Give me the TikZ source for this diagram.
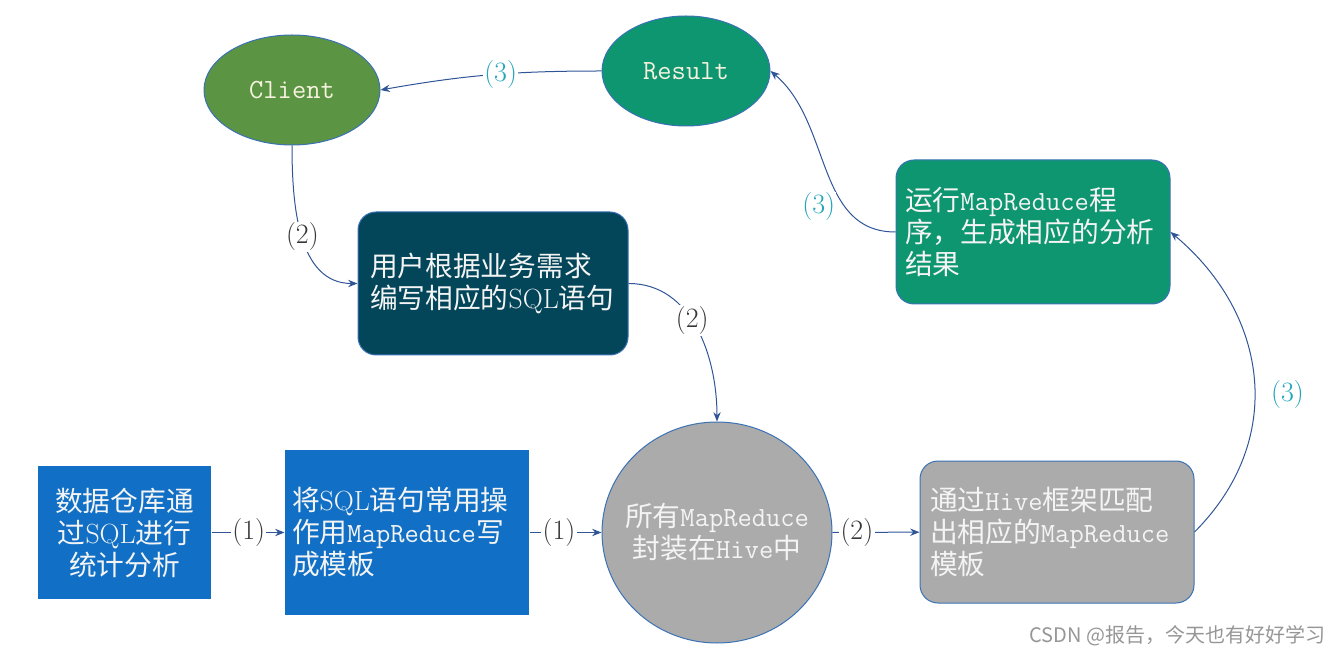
\documentclass[tikz,border=0pt]{standalone}
\usepackage{fontspec}
\newfontfamily\cjk{Noto Sans CJK SC}
\usetikzlibrary{arrows.meta,shapes.geometric}
\definecolor{clientc}{RGB}{91,148,67}
\definecolor{resc}{RGB}{14,150,112}
\definecolor{userc}{RGB}{3,70,90}
\definecolor{bluec}{RGB}{17,112,197}
\definecolor{grayc}{RGB}{171,171,171}
\definecolor{bordc}{RGB}{58,114,181}
\definecolor{linec}{RGB}{47,85,151}
\definecolor{labcyan}{RGB}{33,165,185}
\definecolor{labdark}{RGB}{55,55,55}
\definecolor{cream}{RGB}{245,242,222}
\definecolor{txtc}{RGB}{244,244,244}
\definecolor{wmgray}{RGB}{150,150,150}
\newcommand\mr[1]{{\ttfamily #1}}
\newcommand\lat[1]{{\rmfamily #1}}
\tikzset{
  base/.style={draw=bordc, line width=0.75pt, text=txtc, inner ysep=0pt,
    font=\cjk\fontsize{20.8}{24}\selectfont},
  rbox/.style={base, rectangle, rounded corners=13.5pt, align=left},
  sbox/.style={base, rectangle, draw=none},
  ell/.style={base, ellipse, inner xsep=-25pt},
  conn/.style={draw=linec, line width=0.75pt, -{Stealth[length=7pt,width=5.5pt]}},
  lab/.style={font=\fontsize{21}{24}\selectfont, fill=white, inner sep=1pt, text=labdark},
  lab3/.style={lab, text=labcyan}
}
\begin{document}
\begin{tikzpicture}[x=0.75pt,y=-0.75pt]
\useasboundingbox (0,0) rectangle (1341,655);
\node[ell, fill=clientc, text=cream, minimum width=132pt, minimum height=82.5pt] (client) at (292,90) {\ttfamily Client};
\node[ell, fill=resc, text=cream, minimum width=126pt, minimum height=82.5pt] (result) at (686,71) {\ttfamily Result};
\node[rbox, fill=userc, minimum height=107.25pt, text width=184.5pt, inner xsep=9pt] (user) at (493,283.5) {用户根据业务需求\\编写相应的\lat{SQL}语句};
\node[rbox, fill=resc, minimum height=108pt, text width=192pt, inner xsep=6.75pt] (run) at (1033,232) {运行\mr{MapReduce}程\\序，生成相应的分析\\结果};
\node[sbox, fill=bluec, minimum height=99.75pt, minimum width=129.75pt, text width=119.75pt, inner xsep=5pt, align=center] (dw) at (124.5,532.5) {数据仓库通\\过\lat{SQL}进行\\统计分析};
\node[sbox, fill=bluec, minimum height=123.75pt, text width=172.5pt, inner xsep=5.25pt, align=left] (tpl) at (407,532.5) {将\lat{SQL}语句常用操\\作用\mr{MapReduce}写\\成模板};
\node[ell, fill=grayc, minimum width=172.5pt, minimum height=165.75pt, align=center] (hive) at (717,532.5) {所有\mr{MapReduce}\\封装在\mr{Hive}中};
\node[rbox, fill=grayc, minimum height=106.5pt, text width=190.5pt, inner xsep=7.5pt] (match) at (1057,532) {通过\mr{Hive}框架匹配\\出相应的\mr{MapReduce}\\模板};
\draw[conn] (dw) -- node[lab,pos=0.51]{(1)} (tpl);
\draw[conn] (tpl) -- node[lab,pos=0.41]{(1)} (hive);
\draw[conn] (hive) -- node[lab,pos=0.28]{(2)} (match);
\draw[conn] (match.east) to[out=45,in=-40,looseness=1.1] node[lab3,pos=0.45,right=11pt]{(3)} (run.east);
\draw[conn] (run.west) to[out=180,in=-40] node[lab3,pos=0.3,left=6pt]{(3)} (result.east);
\draw[conn] (result.west) to[out=180,in=10] node[lab3,pos=0.45]{(3)} (client.east);
\draw[conn] (client.south) to[out=-90,in=180] node[lab,pos=0.5]{(2)} (user.west);
\draw[conn] (user.east) to[out=0,in=90] node[lab,pos=0.45]{(2)} (hive.north);
\node[anchor=east, font=\cjk\fontsize{15}{18}\selectfont, text=wmgray] (wm) at (1330,636) {CSDN @报告，今天也有好好学习};
\end{tikzpicture}
\end{document}
